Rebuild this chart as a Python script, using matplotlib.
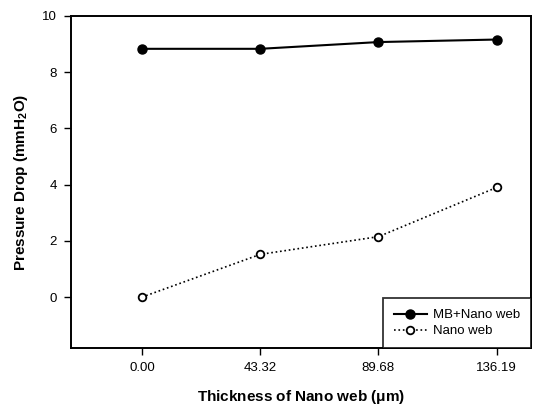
import matplotlib
matplotlib.use('Agg')
import matplotlib.pyplot as plt

plt.rcParams['font.family'] = ['Liberation Sans', 'DejaVu Sans']
plt.rcParams['mathtext.default'] = 'regular'

thickness_labels = ['0.00', '43.32', '89.68', '136.19']
mb_nano = [8.83, 8.83, 9.07, 9.16]
nano = [0.0, 1.52, 2.15, 3.90]

x = list(range(len(thickness_labels)))

fig = plt.figure(figsize=(5.33, 4.08), dpi=100)
ax = fig.add_axes([0.1332, 0.147, 0.863, 0.814])

ax.plot(x, mb_nano, '-o', color='black', lw=1.5, ms=6.5, label='MB+Nano web')
ax.plot(x, nano, ':o', color='black', lw=1.2, ms=5.5, mfc='white', mew=1.3, label='Nano web')

ax.set_xlim(-0.6, 3.29)
ax.set_ylim(-1.81, 10)
ax.set_xticks(x)
ax.set_xticklabels(thickness_labels)
ax.set_yticks([0, 2, 4, 6, 8, 10])
ax.tick_params(direction='out', length=5, width=1, labelsize=9.5, colors='black', pad=5)
for s in ax.spines.values():
    s.set_linewidth(1.4)

ax.set_xlabel('Thickness of Nano web ($\\mu$m)', fontsize=11, fontweight='bold', labelpad=10)
ax.set_ylabel('Pressure Drop (mmH$_2$O)', fontsize=11, fontweight='bold', labelpad=9)

leg = ax.legend(loc='lower right', fontsize=9.5, frameon=True, fancybox=False,
                borderaxespad=0, handlelength=2.5, handletextpad=0.5,
                borderpad=0.8, labelspacing=0.3)
leg.get_frame().set_edgecolor('black')
leg.get_frame().set_linewidth(1.3)

fig.savefig('out.png', dpi=100)
